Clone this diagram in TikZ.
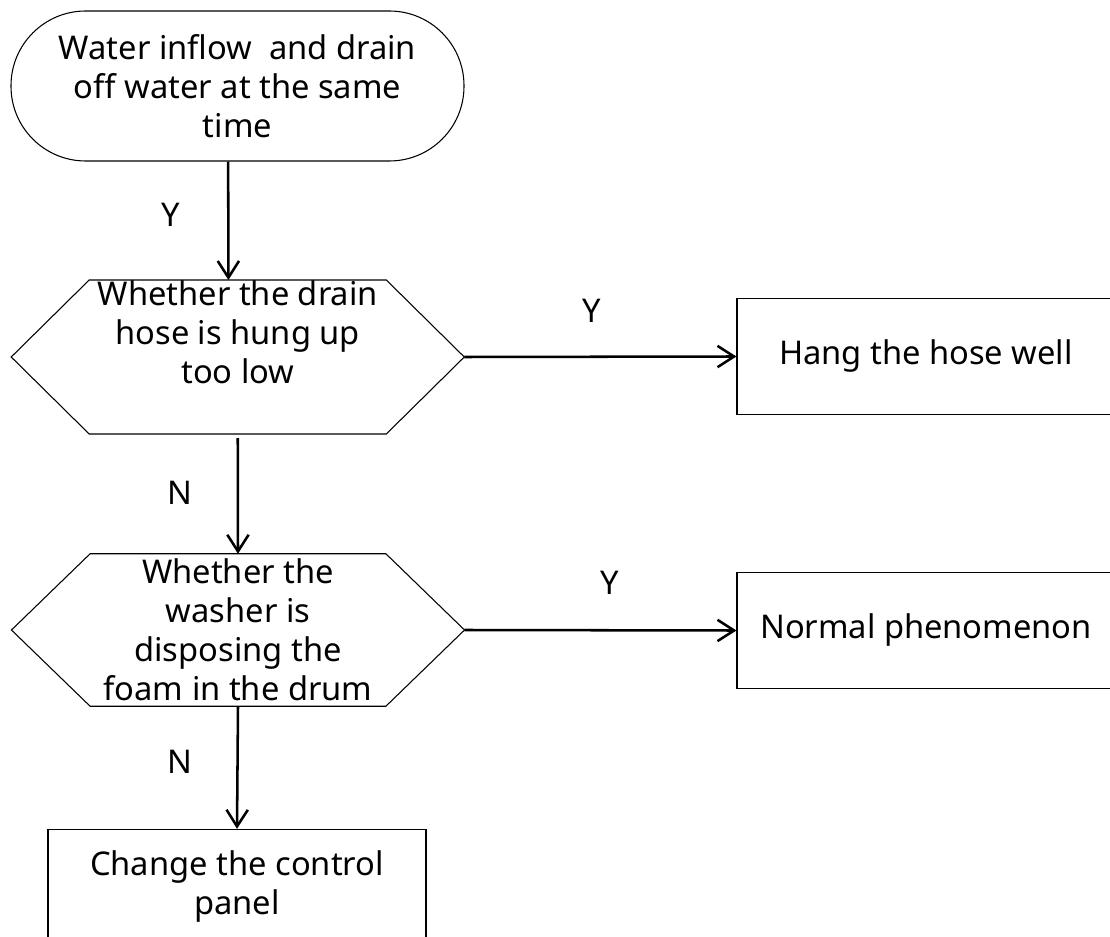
\documentclass[tikz,border=0pt]{standalone}
\usepackage{fontspec}
\setmainfont{Noto Sans}
\usetikzlibrary{arrows.meta,calc}
\begin{document}
\begin{tikzpicture}[x=0.75pt,y=-0.75pt,
  txt/.style={font=\fontsize{24.5pt}{29.25pt}\selectfont, align=center, inner sep=0pt},
  startbox/.style={txt, draw, line width=0.8pt, rounded corners=56pt,
    minimum width=339.75pt, minimum height=112.5pt},
  hexbox/.style={txt, minimum width=339.4pt, minimum height=113pt},
  hexline/.style={line width=0.8pt, line join=miter},
  procbox/.style={txt, draw, line width=0.8pt, minimum width=283.5pt, minimum height=86.5pt},
  lbl/.style={txt},
  arr/.style={line width=1.9pt, -{Straight Barb[length=12.5pt,width=16pt,line width=1.9pt]}}
]
\fill[white] (0,0) rectangle (1110,937);
\clip (0,0) rectangle (1110,937);

\node[startbox] (start) at (237.5,86) {Water inflow~ and drain\\off water at the same\\time};

\node[hexbox] (hex1) at (237.75,357) {Whether the drain\\hose is hung up\\too low\\\strut};
\draw[hexline] ([xshift=58.5pt]hex1.north west) -- ([xshift=-58.5pt]hex1.north east)
  -- (hex1.east) -- ([xshift=-58.5pt]hex1.south east) -- ([xshift=58.5pt]hex1.south west)
  -- (hex1.west) -- cycle;

\node[hexbox, minimum height=114pt] (hex2) at (238,630) {Whether the\\washer is\\disposing the\\foam in the drum};
\draw[hexline] ([xshift=59pt]hex2.north west) -- ([xshift=-59pt]hex2.north east)
  -- (hex2.east) -- ([xshift=-59pt]hex2.south east) -- ([xshift=59pt]hex2.south west)
  -- (hex2.west) -- cycle;

\node[procbox] (box1) at (926,356.5) {Hang the hose well};
\node[procbox] (box2) at (926,630.5) {Normal phenomenon};
\node[procbox] (box3) at (237,887) {Change the control\\panel};

\draw[arr] ([xshift=-7pt]start.south) -- ([xshift=-7pt]hex1.north);
\draw[arr] ([yshift=-3pt]hex1.south) -- (hex2.north);
\draw[arr] (hex2.south) -- (box3.north);
\draw[arr] (hex1.east) -- (box1.west);
\draw[arr] (hex2.east) -- (box2.west);

\node[lbl] (y1) at (171,215) {Y};
\node[lbl] (y2) at (592,311) {Y};
\node[lbl] (n1) at (180,493) {N};
\node[lbl] (y3) at (610,583) {Y};
\node[lbl] (n2) at (180,762) {N};
\end{tikzpicture}
\end{document}
